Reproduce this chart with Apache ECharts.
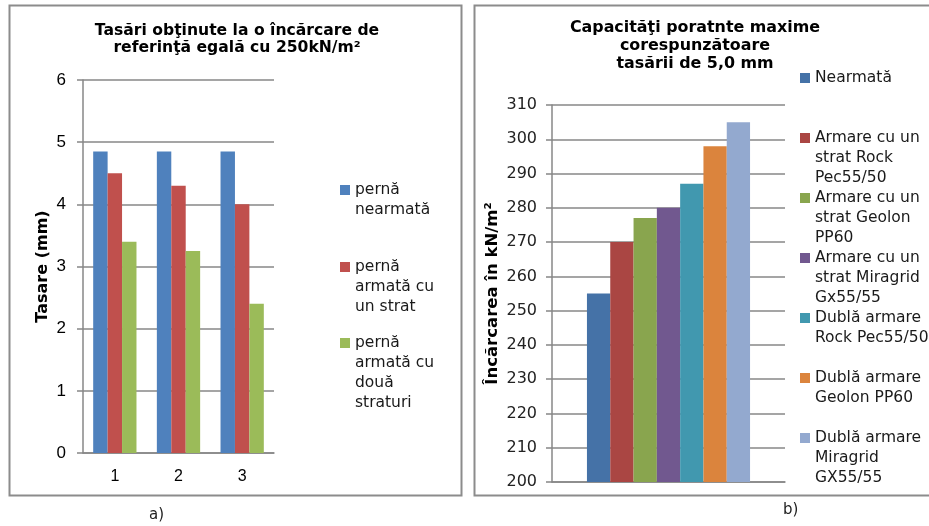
<!DOCTYPE html>
<html>
<head>
<meta charset="utf-8">
<script src="https://cdn.jsdelivr.net/npm/echarts@6/dist/echarts.min.js"></script>
<style>
  html, body { margin: 0; padding: 0; background: #fff; }
  #chart { width: 929px; height: 526px; }
</style>
</head>
<body>
<div id="chart"></div>
<script>
// Panel a) – settlement at a 250 kN/m² reference load
const catsA = ['1', '2', '3'];
const namesA = ['pernă\nnearmată', 'pernă\narmată cu\nun strat', 'pernă\narmată cu\ndouă\nstraturi'];
const valsA = [
  [4.85, 4.85, 4.85],
  [4.5, 4.3, 4.0],
  [3.4, 3.25, 2.4]
];
const colorsA = ['#4F81BD', '#C0504D', '#9BBB59'];
const ticksA = { min: 0, max: 6, step: 1 };

// Panel b) – maximum bearing capacity at 5.0 mm settlement
const namesB = [
  'Nearmată',
  'Armare cu un\nstrat Rock\nPec55/50',
  'Armare cu un\nstrat Geolon\nPP60',
  'Armare cu un\nstrat Miragrid\nGx55/55',
  'Dublă armare\nRock Pec55/50',
  'Dublă armare\nGeolon PP60',
  'Dublă armare\nMiragrid\nGX55/55'
];
const valsB = [255, 270, 277, 280, 287, 298, 305];
const colorsB = ['#4572A7', '#AA4643', '#89A54E', '#71588F', '#4198AF', '#DB843D', '#93A9CF'];
const ticksB = { min: 200, max: 310, step: 10 };

const GRID_GRAY = '#878787';
const TXT = 'DejaVu Sans';
const LINE_H = 20;

// One legend block per entry. The text is centred on the icon, so (n-1) blank
// lines are put in front of an n-line label to keep the icon on its first line.
function legendBlock(name, left, firstLineY, fontSize) {
  const n = name.split('\n').length;
  return {
    data: [name],
    left: left,
    top: firstLineY - LINE_H * (2 * n - 1) / 2,
    padding: 0,
    itemWidth: 10,
    itemHeight: 10,
    itemGap: 0,
    icon: 'rect',
    selectedMode: false,
    formatter: (nm) => '\n'.repeat(n - 1) + nm,
    textStyle: {
      fontFamily: TXT,
      fontSize: fontSize,
      color: '#1a1a1a',
      lineHeight: LINE_H
    }
  };
}

const legendA = namesA.map((nm, i) => legendBlock(nm, 340, [190, 267, 343][i], 15.5));
const legendB = namesB.map((nm, i) => legendBlock(nm, 800, 78 + 60 * i, 15.5));

const seriesA = namesA.map((nm, i) => ({
  name: nm,
  type: 'bar',
  xAxisIndex: 0,
  yAxisIndex: 0,
  data: valsA[i],
  barGap: '0%',
  barCategoryGap: '32%',
  itemStyle: { color: colorsA[i] },
  emphasis: { disabled: true }
}));

const seriesB = namesB.map((nm, i) => ({
  name: nm,
  type: 'bar',
  xAxisIndex: 1,
  yAxisIndex: 1,
  data: [valsB[i]],
  barGap: '0%',
  barCategoryGap: '30%',
  itemStyle: { color: colorsB[i] },
  emphasis: { disabled: true }
}));

const valueAxisBase = {
  type: 'value',
  axisLine: { show: true, lineStyle: { color: GRID_GRAY, width: 1.5 } },
  axisTick: { show: true, inside: false, length: 6, lineStyle: { color: GRID_GRAY, width: 1.5 } },
  splitLine: { show: true, lineStyle: { color: GRID_GRAY, width: 1.5 } }
};

const option = {
  animation: false,
  backgroundColor: '#fff',
  title: [
    {
      text: 'Tasări obţinute la o încărcare de\nreferinţă egală cu 250kN/m²',
      left: 232,
      top: 17,
      textAlign: 'center',
      textStyle: { fontFamily: TXT, fontWeight: 'bold', fontSize: 15.6, lineHeight: 17, color: '#000' }
    },
    {
      text: 'Capacităţi poratnte maxime\ncorespunzătoare\ntasării de 5,0 mm',
      left: 690,
      top: 14,
      textAlign: 'center',
      textStyle: { fontFamily: TXT, fontWeight: 'bold', fontSize: 15.9, lineHeight: 18, color: '#000' }
    }
  ],
  legend: legendA.concat(legendB),
  grid: [
    { left: 83, top: 80, width: 191, height: 373, containLabel: false },
    { left: 552, top: 105, width: 233, height: 377, containLabel: false }
  ],
  xAxis: [
    {
      type: 'category',
      gridIndex: 0,
      data: catsA,
      axisLine: { show: true, lineStyle: { color: GRID_GRAY, width: 1.5 } },
      axisTick: { show: false },
      axisLabel: { fontFamily: 'Liberation Sans', fontSize: 16, color: '#000', margin: 16 }
    },
    {
      type: 'category',
      gridIndex: 1,
      data: [''],
      axisLine: { show: true, lineStyle: { color: GRID_GRAY, width: 1.5 } },
      axisTick: { show: false },
      axisLabel: { show: false }
    }
  ],
  yAxis: [
    Object.assign({}, valueAxisBase, {
      gridIndex: 0,
      min: ticksA.min,
      max: ticksA.max,
      interval: ticksA.step,
      name: 'Tasare (mm)',
      nameLocation: 'middle',
      nameGap: 32,
      nameTextStyle: { fontFamily: TXT, fontWeight: 'bold', fontSize: 16, color: '#000' },
      axisLabel: { fontFamily: 'Liberation Sans', fontSize: 17, color: '#000', margin: 17 }
    }),
    Object.assign({}, valueAxisBase, {
      gridIndex: 1,
      min: ticksB.min,
      max: ticksB.max,
      interval: ticksB.step,
      name: 'Încărcarea în kN/m²',
      nameLocation: 'middle',
      nameGap: 51,
      nameTextStyle: { fontFamily: TXT, fontWeight: 'bold', fontSize: 16.5, color: '#000' },
      axisLabel: { fontFamily: TXT, fontSize: 16, color: '#222', margin: 15 }
    })
  ],
  series: seriesA.concat(seriesB),
  graphic: [
    { type: 'rect', shape: { x: 9.5, y: 5.5, width: 452, height: 490 },
      style: { fill: 'none', stroke: '#8c8c8c', lineWidth: 2 }, silent: true },
    { type: 'rect', shape: { x: 474.5, y: 5.5, width: 480, height: 490 },
      style: { fill: 'none', stroke: '#8c8c8c', lineWidth: 2 }, silent: true },
    { type: 'text', left: 149, top: 508,
      style: { text: 'a)', font: '15px "DejaVu Sans"', fill: '#222' }, silent: true },
    { type: 'text', left: 783, top: 503,
      style: { text: 'b)', font: '15px "DejaVu Sans"', fill: '#222' }, silent: true }
  ]
};

const chart = echarts.init(document.getElementById('chart'), null, { renderer: 'canvas' });
chart.setOption(option);
</script>
</body>
</html>
